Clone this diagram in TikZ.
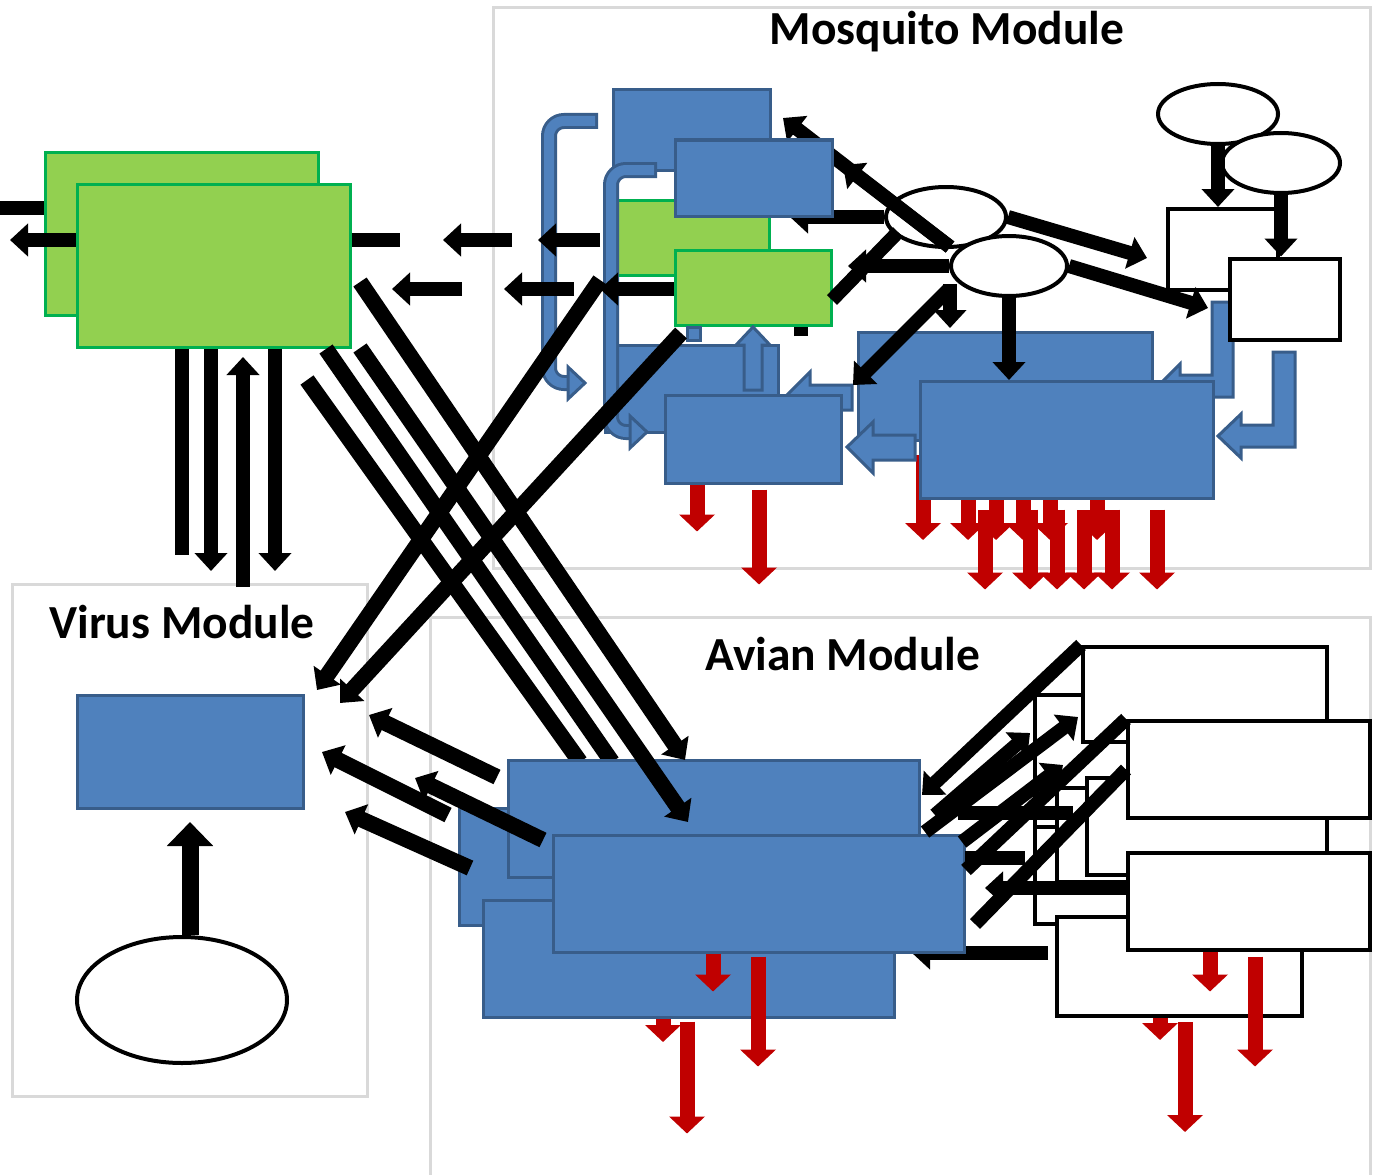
\documentclass[tikz,border=0pt]{standalone}
\usepackage{fontspec}
\setmainfont{Carlito}
\usepackage{xcolor}
\usepackage{tikz}
\usetikzlibrary{arrows.meta, positioning, shapes.geometric}

\definecolor{bluefill}{HTML}{4F81BD}
\definecolor{blueedge}{HTML}{385D8A}
\definecolor{greenfill}{HTML}{92D050}
\definecolor{greenedge}{HTML}{00B050}
\definecolor{outred}{HTML}{C00000}
\definecolor{framegray}{HTML}{D9D9D9}

\begin{document}
\begin{tikzpicture}[
        x=0.2mm, y=-0.2mm,
        sz/.style 2 args={minimum width=#1*0.2mm, minimum height=#2*0.2mm},
        bluebox/.style={draw=blueedge, fill=bluefill, line width=0.6mm, inner sep=0pt},
        greenbox/.style={draw=greenedge, fill=greenfill, line width=0.6mm, inner sep=0pt},
        whitebox/.style={draw, fill=white, line width=0.8mm, inner sep=0pt},
        oval/.style={ellipse, draw, fill=white, line width=0.8mm, inner sep=0pt},
        modframe/.style={draw=framegray, line width=0.6mm},
        modtitle/.style={font=\bfseries\fontsize{27}{32}\selectfont, anchor=base},
        arrow/.style={line width=2.8mm, -{Triangle[length=3.6mm, width=6.4mm]}},
        cross/.style={line width=3.2mm},
        thickline/.style={line width=2.8mm},
        bigarrow/.style={line width=3.4mm, -{Triangle[length=4.8mm, width=9mm]}},
        outflow/.style={draw=outred, line width=3mm, -{Triangle[length=3.4mm, width=7mm]}},
        blockarrow/.style={draw=blueedge, fill=bluefill, line width=0.6mm},
        turnout/.style={draw=blueedge, line width=3.2mm, rounded corners=3mm},
        turnin/.style={draw=bluefill, line width=2mm, rounded corners=3mm, shorten <=0.6mm}
    ]
    \useasboundingbox (0,0) rectangle (1380,1175);

    % Module frames
    \draw[modframe] (493,8) rectangle (1370,568);
    \draw[modframe] (12,584) rectangle (367,1096);
    \draw[modframe] (430,617) rectangle (1370,1185);
    \node[modtitle] (mosqtitle) at (947,45) {Mosquito Module};
    \node[modtitle] (virtitle) at (182,638) {Virus Module};
    \node[modtitle] (avititle) at (843,670) {Avian Module};

    % Mosquito Module - left stages
    \draw[turnout] (598,121) -- (549,121) -- (549,383) -- (568,383);
    \draw[turnin] (598,121) -- (549,121) -- (549,383) -- (568,383);
    \filldraw[blockarrow] (568,367) -- (585,383) -- (568,399) -- cycle;
    \node[bluebox, sz={157}{80}] (B1) at (691.5,130) {};
    \node[greenbox, sz={152}{75}] (G3) at (693,237.5) {};
    \node[bluebox, sz={173}{87}] (B3) at (691.5,388.5) {};
    \draw[turnout] (657,170) -- (611,170) -- (611,432) -- (630,432);
    \draw[turnin] (657,170) -- (611,170) -- (611,432) -- (630,432);
    \filldraw[blockarrow] (630,416) -- (647,432) -- (630,448) -- cycle;

    % Mosquito Module - right stages
    \foreach \x in {923,968,996,1023,1050,1097}
        \draw[outflow] (\x,455) -- (\x,540);
    \node[bluebox, sz={294}{108}] (B5) at (1005,386) {};
    \filldraw[blockarrow] (1212,302) -- (1233,302) -- (1233,397) -- (1180,397) -- (1180,408)
        -- (1158,386) -- (1180,364) -- (1180,375) -- (1212,375) -- cycle;
    \node[bluebox, sz={293}{117}] (B6) at ([shift={(61.5,53.5)}]B5) {};
    \filldraw[blockarrow] (915,435) -- (873,435) -- (873,422) -- (847,447) -- (873,473)
        -- (873,460) -- (915,460) -- cycle;
    \filldraw[blockarrow] (1273,352) -- (1295,352) -- (1295,447) -- (1241,447) -- (1241,458)
        -- (1218,436) -- (1241,414) -- (1241,425) -- (1273,425) -- cycle;
    \foreach \x in {985,1030,1057,1084,1112,1157}
        \draw[outflow] (\x,0 |- B6.south) ++(0,10) -- ++(0,80);

    \node[whitebox, sz={110}{81}] (W1) at (1223,249.5) {};
    \node[whitebox, sz={110}{81}] (W2) at ([shift={(61.5,49.5)}]W1) {};
    \node[oval, sz={120}{60}] (E3) at (1218,114) {};
    \node[oval, sz={118}{60}] (E4) at ([shift={(63,49)}]E3) {};
    \draw[arrow] (E3.south) -- (E3.south |- W1.north);
    \draw[arrow] (E4.south) -- (E4.south |- W2.north);

    % Arrows - mosquito ovals
    \node[oval, sz={120}{60}] (E1) at (946,217) {};
    \foreach \n/\x/\y in {mo/950/247, mb1/783/118, mb2/843/165, mb3/790/217, ms/801/336,
        mg/848/266, md1/898/232, md2/832/300, me1/950/284, me2/950/328,
        me3/948/290, me4/853/385, mw1/1147/258, mw2/1208/308}
        \coordinate (\n) at (\x,\y);
    \draw[arrow] (mo) -- (mb1);
    \draw[arrow] (mo) -- (mb2);
    \draw[arrow] (E1.west) -- (mb3);
    \draw[thickline] (ms) -- ++(0,-26);
    \node[oval, sz={116}{60}] (E2) at ([shift={(63,49)}]E1) {};

    \node[bluebox, sz={157}{76}] (B2) at ([shift={(62,48)}]B1) {};
    \node[greenbox, sz={156}{75}] (G4) at ([shift={(60,50)}]G3) {};
    \filldraw[blockarrow] (744,390) -- (744,345) -- (736,345) -- (753,327) -- (770,345)
        -- (762,345) -- (762,390) -- cycle;
    \filldraw[blockarrow] (687,327) rectangle (700,340);
    \filldraw[blockarrow] (852,385) -- (810,385) -- (810,372) -- (785,397) -- (810,423)
        -- (810,410) -- (852,410) -- cycle;
    \node[bluebox, sz={176}{88}] (B4) at (753,439) {};
    \draw[outflow] (697,0 |- B4.south) -- ++(0,47);
    \draw[outflow] (759,0 |- B4.south) ++(0,5) -- ++(0,95);

    \draw[arrow] (E2.west) -- (mg);
    \draw[thickline] (md1) -- (md2);
    \draw[arrow] (me1) -- (me2);
    \draw[arrow] (E2.south) -- ++(0,82);
    \draw[arrow] (me3) -- (me4);
    \draw[arrow] (E1.east) -- (mw1);
    \draw[arrow] (E2.east) -- (mw2);

    % Green stages
    \node[greenbox, sz={273}{163}] (G1) at (181.5,233.5) {};
    \node[greenbox, sz={273}{163}] (G2) at ([shift={(32,32)}]G1) {};
    \coordinate (gin) at (0,208);
    \coordinate (gout) at (10,240);
    \draw[thickline] (gin) -- (gin -| G1.west);
    \draw[arrow] (G2.west |- gout) -- (gout);

    % Arrows - mosquito to green
    \foreach \n/\x/\y in {r1/400/240, r2/512/240, r3/443/240, r4/600/240, r5/538/240,
        r6/462/289, r7/392/289, r8/574/289, r9/504/289, r10/600/289}
        \coordinate (\n) at (\x,\y);
    \draw[thickline] (G2.east |- r1) -- (r1);
    \draw[arrow] (r2) -- (r3);
    \draw[arrow] (r4) -- (r5);
    \draw[arrow] (r6) -- (r7);
    \draw[arrow] (r8) -- (r9);
    \draw[arrow] (G4.west |- r10) -- (r10);

    % Arrows - green to virus
    \foreach \n/\x/\y in {v1/182/555, v2/211/571, v3/243/587, v4/243/357, v5/275/571}
        \coordinate (\n) at (\x,\y);
    \draw[thickline] (G2.south -| v1) -- (v1);
    \draw[arrow] (G2.south -| v2) -- (v2);
    \draw[arrow] (v3) -- (v4);
    \draw[arrow] (G2.south -| v5) -- (v5);

    % Virus Module
    \node[bluebox, sz={226}{113}] (V) at (190,751.5) {};
    \node[oval, sz={210}{126}] (VE) at (182,1000) {};
    \coordinate (vu) at (190,822);
    \draw[bigarrow] (vu |- VE.north) -- (vu);

    % Avian Module - stages
    \foreach \n/\x/\y in {ca1/307/380, ca2/580/762, cb1/326/349, cb2/612/762,
        cc1/360/348, cc2/688/822, cd1/360/282, cd2/685/760,
        ce1/600/280, ce2/317/690, cf1/681/333, cf2/340/703,
        va1/497/777, va2/369/715, vb1/543/840, vb2/415/778,
        vc1/448/815, vc2/322/752, vd1/470/868, vd2/345/812,
        ar/663/1042, ab1/1048/953, ab2/912/953}
        \coordinate (\n) at (\x,\y);
    \node[bluebox, sz={411}{117}] (A2) at (665,866.5) {};
    \draw[cross] (ca1) -- (ca2);
    \draw[cross] (cb1) -- (cb2);
    \node[bluebox, sz={411}{117}] (A1) at ([shift={(48.5,-48)}]A2) {};
    \draw[outflow] (ar) ++(0,-82) -- (ar);
    \node[bluebox, sz={411}{117}] (A3) at ([shift={(23.5,92)}]A2) {};
    \draw[outflow] (687,0 |- A3.south) ++(0,3) -- ++(0,112);

    % Arrows - crossing
    \draw[arrow, cross] (va1) -- (va2);
    \draw[arrow, cross] (vb1) -- (vb2);
    \draw[arrow, cross] (vc1) -- (vc2);
    \draw[arrow, cross] (vd1) -- (vd2);
    \draw[arrow, cross] (cc1) -- (cc2);
    \draw[arrow, cross] (cd1) -- (cd2);
    \draw[arrow, cross] (ce1) -- (ce2);
    \draw[arrow, cross] (cf1) -- (cf2);
    \draw[arrow] (ab1) -- (ab2);

    \node[bluebox, sz={411}{117}] (A4) at ([shift={(45.5,75)}]A1) {};
    \draw[outflow] (713,0 |- A4.south) -- ++(0,38);
    \draw[outflow] (758,0 |- A4.south) ++(0,3) -- ++(0,110);

    % Avian Module - white boxes
    \node[whitebox, sz={244}{135}] (Wa) at (1157,762.5) {};
    \node[whitebox, sz={244}{97}] (Wc) at (1157,875.5) {};
    \node[whitebox, sz={244}{94}] (Wb) at (1179,835) {};
    \node[whitebox, sz={244}{95}] (AW1) at (1205,694.5) {};
    \node[whitebox, sz={240}{97}] (AW3) at ([shift={(2,132)}]AW1) {};
    \coordinate (wr) at (1160,1040);
    \draw[outflow] (wr) ++(0,-74) -- (wr);
    \node[whitebox, sz={245}{99}] (AW7) at (1179.5,966.5) {};
    \node[whitebox, sz={242}{97}] (AW5) at (1249,769.5) {};
    \node[whitebox, sz={242}{97}] (AW6) at ([shift={(0,131.5)}]AW5) {};
    \draw[outflow] (1210,0 |- AW6.south) -- ++(0,40);
    \draw[outflow] (1255,0 |- AW6.south) ++(0,5) -- ++(0,110);
    \draw[outflow] (1185,0 |- AW7.south) ++(0,4) -- ++(0,110);

    % Arrows - avian white boxes
    \foreach \n/\x/\y in {k2/922/795, k3/925/832, k4/1078/717, k5/935/815, k6/1030/733,
        k7/962/842, k8/1063/765, k10/966/870, k12/975/924,
        k13/1073/813, k14/958/813, k15/965/858, k16/1025/858, k18/985/888}
        \coordinate (\n) at (\x,\y);
    \draw[arrow] (AW1.north west) -- (k2);
    \draw[arrow] (k3) -- (k4);
    \draw[arrow] (k5) -- (k6);
    \draw[arrow] (k7) -- (k8);
    \draw[thickline] (AW5.north west) -- (k10);
    \draw[thickline] (AW5.west) -- (k12);
    \draw[thickline] (k13) -- (k14);
    \draw[thickline] (k15) -- (k16);
    \draw[arrow] (AW6.west |- k18) -- (k18);

\end{tikzpicture}
\end{document}
